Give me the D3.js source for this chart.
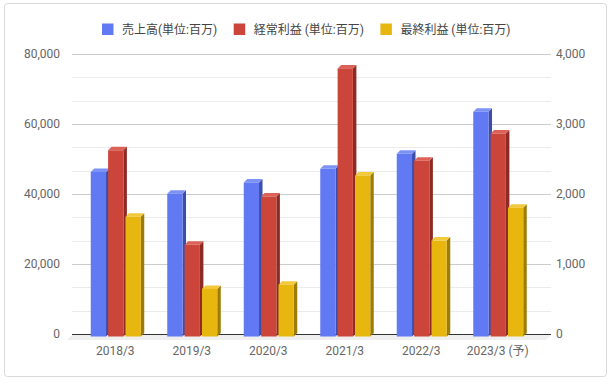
<!DOCTYPE html>
<html>
<head>
<meta charset="utf-8">
<script src="https://cdn.jsdelivr.net/npm/d3@7"></script>
<style>
  body { margin: 0; background: #fff; }
  svg { display: block; font-family: Roboto, "Noto Sans CJK JP", sans-serif; }
</style>
</head>
<body>
<div id="chart"></div>
<script>
// 決算データ
const categories = ['2018/3', '2019/3', '2020/3', '2021/3', '2022/3', '2023/3 (予)'];
const seriesNames = ['売上高(単位:百万)', '経常利益 (単位:百万)', '最終利益 (単位:百万)'];
const sales = [47000, 40800, 44000, 47900, 52200, 64200];        // 左軸
const ordinaryProfit = [2660, 1310, 2000, 3830, 2510, 2900];    // 右軸
const netProfit = [1710, 680, 740, 2300, 1370, 1840];           // 右軸
const leftTicks = [0, 20000, 40000, 60000, 80000];
const rightTicks = [0, 1000, 2000, 3000, 4000];

const width = 612, height = 384;
const plot = { left: 72, right: 551, top: 54, bottom: 334 };
const depth = 3.5;

// 色 (前面 / 上面 / 側面)
const colors = [
    { front: '#6179f2', top: '#7d92f6', side: '#3c4fa8' },
    { front: '#cc453a', top: '#dc6258', side: '#8c2a23' },
    { front: '#e7b70f', top: '#f2c93c', side: '#9c7b06' }
];

const svg = d3.select('#chart')
    .append('svg')
    .attr('width', width)
    .attr('height', height);

// 外枠
svg.append('rect')
    .attr('x', 4.5).attr('y', 3.5)
    .attr('width', 602).attr('height', 373)
    .attr('rx', 3)
    .attr('fill', '#fff')
    .attr('stroke', '#d9d9d9');

const x = d3.scaleBand()
    .domain(categories)
    .range([77, 536]);

const xs = d3.scaleBand()
    .domain([0, 1, 2])
    .range([-24.5, 25.5])
    .paddingInner(0.12);

const yL = d3.scaleLinear().domain([0, 80000]).range([plot.bottom, plot.top]);
const yR = d3.scaleLinear().domain([0, 4000]).range([plot.bottom, plot.top]);

// グリッド線 (主線と補助線)
const gridVals = d3.range(0, 12.01, 1).map(i => i * 80000 / 12);
svg.append('g')
    .selectAll('line')
    .data(gridVals)
    .join('line')
    .attr('x1', plot.left)
    .attr('x2', plot.right)
    .attr('y1', d => Math.round(yL(d)) + 0.5)
    .attr('y2', d => Math.round(yL(d)) + 0.5)
    .attr('stroke', (d, i) => i % 3 === 0 ? '#cccccc' : '#ebebeb');

// 床
svg.append('polygon')
    .attr('points', [
        [plot.left, plot.bottom + 1], [plot.right, plot.bottom + 1],
        [plot.right - 5, plot.bottom + 6], [plot.left - 5, plot.bottom + 6]
    ].map(p => p.join(',')).join(' '))
    .attr('fill', '#efefef');

// 基準線
svg.append('line')
    .attr('x1', plot.left).attr('x2', plot.right)
    .attr('y1', plot.bottom + 0.5).attr('y2', plot.bottom + 0.5)
    .attr('stroke', '#333');

// 棒 (3D風)
const bars = [];
categories.forEach((c, i) => {
    [sales[i], ordinaryProfit[i], netProfit[i]].forEach((v, s) => {
        const scale = s === 0 ? yL : yR;
        bars.push({ cat: c, s: s, v: v, x0: x(c) + x.bandwidth() / 2 + xs(s), yt: scale(v) + 2.5 });
    });
});

const bw = xs.bandwidth();
const yb = plot.bottom + 2.5;
const pts = arr => arr.map(p => p.join(',')).join(' ');

const bar = svg.append('g')
    .selectAll('g')
    .data(bars)
    .join('g');

bar.append('polygon')
    .attr('points', d => pts([
        [d.x0 + bw, d.yt], [d.x0 + bw + depth, d.yt - depth],
        [d.x0 + bw + depth, yb - depth], [d.x0 + bw, yb]
    ]))
    .attr('fill', d => colors[d.s].side);

bar.append('polygon')
    .attr('points', d => pts([
        [d.x0, d.yt], [d.x0 + depth, d.yt - depth],
        [d.x0 + bw + depth, d.yt - depth], [d.x0 + bw, d.yt]
    ]))
    .attr('fill', d => colors[d.s].top);

bar.append('rect')
    .attr('x', d => d.x0)
    .attr('y', d => d.yt)
    .attr('width', bw)
    .attr('height', d => yb - d.yt)
    .attr('fill', d => colors[d.s].front);

// 軸
const axisLeft = svg.append('g')
    .attr('transform', `translate(${plot.left},0)`)
    .call(d3.axisLeft(yL).tickValues(leftTicks).tickFormat(d3.format(',')).tickSize(0).tickPadding(12));

const axisRight = svg.append('g')
    .attr('transform', `translate(${plot.right},0)`)
    .call(d3.axisRight(yR).tickValues(rightTicks).tickFormat(d3.format(',')).tickSize(0).tickPadding(5));

const axisBottom = svg.append('g')
    .attr('transform', `translate(0,${plot.bottom})`)
    .call(d3.axisBottom(x).tickSize(0).tickPadding(12));

[axisLeft, axisRight, axisBottom].forEach(a => {
    a.select('.domain').remove();
    a.selectAll('text')
        .attr('fill', '#666')
        .style('font-size', '12px')
        .style('font-family', 'Roboto, "Noto Sans CJK JP", sans-serif');
});

// 凡例
const legend = svg.append('g');
let lx = 102;
seriesNames.forEach((name, s) => {
    legend.append('rect')
        .attr('x', lx).attr('y', 23.5)
        .attr('width', 11.5).attr('height', 11.5)
        .attr('fill', colors[s].front);
    const t = legend.append('text')
        .attr('x', lx + 20)
        .attr('y', 34)
        .attr('fill', '#444')
        .style('font-size', '12px')
        .text(name);
    lx += 20 + t.node().getComputedTextLength() + 16.5;
});
</script>
</body>
</html>
